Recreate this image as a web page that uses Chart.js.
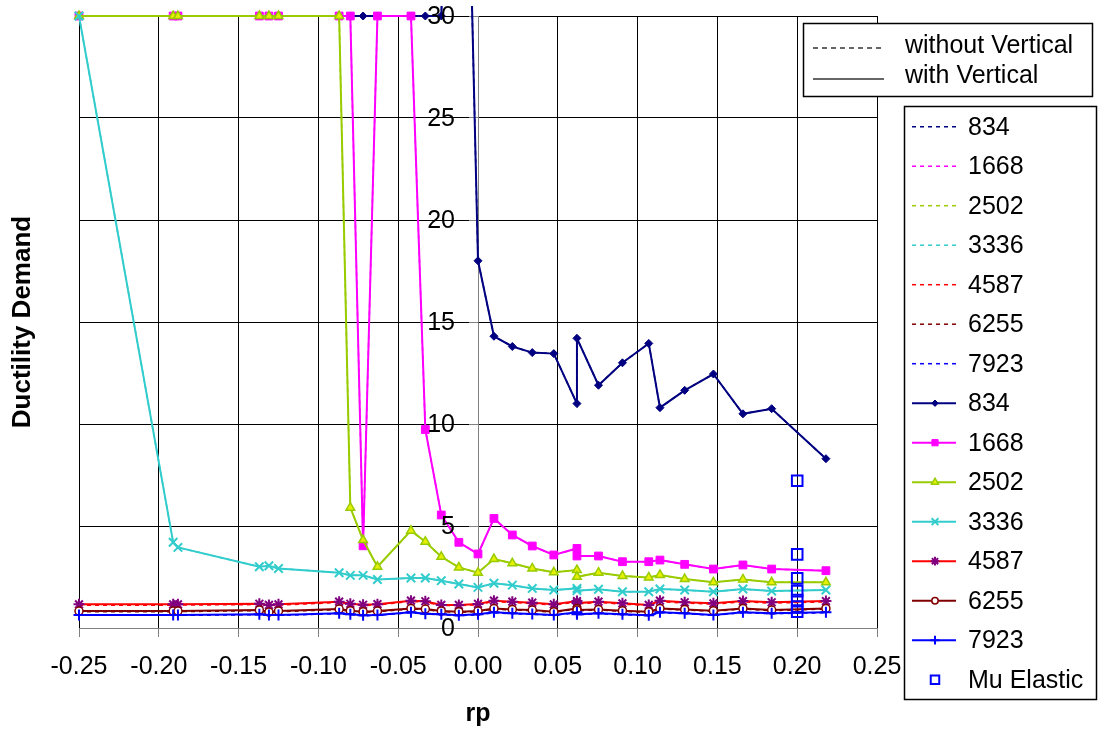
<!DOCTYPE html>
<html>
<head>
<meta charset="utf-8">
<title>Ductility Demand vs rp</title>
<script src="https://cdn.jsdelivr.net/npm/chart.js@4.4.1/dist/chart.umd.min.js"></script>
<style>
  html, body { margin: 0; padding: 0; background: #fff; }
  #wrap { width: 1099px; height: 729px; }
</style>
</head>
<body>
<div id="wrap"><canvas id="chart" width="1099" height="729"></canvas></div>
<script>
// rp positions shared by every series (two points sit at 0.062)
const rp = [-0.25, -0.191, -0.188, -0.137, -0.131, -0.125, -0.087, -0.080, -0.072, -0.063,
  -0.042, -0.033, -0.023, -0.012, 0.000, 0.010, 0.0215, 0.034, 0.0475, 0.062,
  0.062, 0.0755, 0.0905, 0.107, 0.114, 0.1295, 0.1475, 0.166, 0.184, 0.218];

// with vertical (solid lines)
const with834 = [30, 30, 30, 30, 30, 30, 30, 30, 30, 30, 30, 30, 30, 58, 18.0,
  14.3, 13.8, 13.5, 13.45, 11.0, 14.2, 11.9, 13.0, 13.95, 10.8, 11.65, 12.45, 10.5, 10.75, 8.3];
const with1668 = [30, 30, 30, 30, 30, 30, 30, 30, 4.03, 30, 30, 9.73, 5.54, 4.2, 3.63,
  5.37, 4.56, 4.02, 3.58, 3.9, 3.53, 3.53, 3.25, 3.25, 3.33, 3.12, 2.89, 3.09, 2.89, 2.81];
const with2502 = [30, 30, 30, 30, 30, 30, 30, 5.9, 4.31, 3.0, 4.77, 4.23, 3.49, 2.97, 2.71,
  3.38, 3.17, 2.92, 2.73, 2.84, 2.51, 2.71, 2.55, 2.48, 2.6, 2.4, 2.24, 2.38, 2.24, 2.24];
const with3336 = [30, 4.2, 3.95, 3.0, 3.05, 2.92, 2.71, 2.58, 2.58, 2.38, 2.45, 2.45, 2.32, 2.16, 1.99,
  2.19, 2.1, 1.94, 1.86, 1.94, 1.83, 1.9, 1.78, 1.78, 1.91, 1.86, 1.78, 1.91, 1.81, 1.86];
const with4587 = [1.16, 1.16, 1.16, 1.19, 1.13, 1.16, 1.29, 1.19, 1.14, 1.17, 1.34, 1.31, 1.13, 1.13, 1.18,
  1.34, 1.29, 1.24, 1.16, 1.32, 1.22, 1.29, 1.21, 1.13, 1.34, 1.26, 1.21, 1.32, 1.26, 1.32];
const with6255 = [0.83, 0.83, 0.83, 0.88, 0.78, 0.83, 0.93, 0.85, 0.80, 0.83, 0.96, 0.93, 0.83, 0.80, 0.83,
  0.96, 0.91, 0.88, 0.80, 0.96, 0.88, 0.91, 0.85, 0.80, 0.96, 0.91, 0.85, 0.96, 0.88, 0.96];
const with7923 = [0.64, 0.64, 0.64, 0.67, 0.64, 0.64, 0.72, 0.67, 0.62, 0.64, 0.77, 0.70, 0.67, 0.62, 0.67,
  0.77, 0.72, 0.69, 0.64, 0.77, 0.67, 0.72, 0.67, 0.62, 0.77, 0.72, 0.64, 0.77, 0.72, 0.77];

// without vertical (dashed lines, mostly hidden under the solid ones)
const without834 = [30, 30, 30, 30, 30, 30, 30, 30, 30, 30, 30, 30, 30, 58, 18.0,
  14.3, 13.8, 13.5, 13.45, 11.0, 14.2, 11.9, 13.0, 13.95, 10.8, 11.65, 12.45, 10.5, 10.75, 8.3];
const without1668 = [30, 30, 30, 30, 30, 30, 30, 30, 4.03, 30, 30, 9.73, 5.54, 4.2, 3.63,
  5.37, 4.56, 4.02, 3.58, 3.9, 3.53, 3.53, 3.25, 3.25, 3.33, 3.12, 2.89, 3.09, 2.89, 2.81];
const without2502 = [30, 30, 30, 30, 30, 30, 30, 5.9, 4.31, 3.0, 4.77, 4.23, 3.49, 2.97, 2.71,
  3.38, 3.17, 2.92, 2.73, 2.84, 2.51, 2.71, 2.55, 2.48, 2.6, 2.4, 2.24, 2.38, 2.24, 2.24];
const without3336 = [30, 4.2, 3.95, 3.0, 3.05, 2.92, 2.71, 2.58, 2.58, 2.38, 2.45, 2.45, 2.32, 2.16, 1.99,
  2.19, 2.1, 1.94, 1.86, 1.94, 1.83, 1.9, 1.78, 1.78, 1.91, 1.86, 1.78, 1.91, 1.81, 1.86];
const without4587 = [1.12, 1.12, 1.12, 1.15, 1.10, 1.12, 1.25, 1.16, 1.10, 1.13, 1.30, 1.27, 1.10, 1.10, 1.14,
  1.30, 1.25, 1.20, 1.12, 1.28, 1.18, 1.25, 1.17, 1.10, 1.30, 1.22, 1.17, 1.28, 1.22, 1.28];
const without6255 = [0.80, 0.80, 0.80, 0.85, 0.75, 0.80, 0.90, 0.82, 0.77, 0.80, 0.93, 0.90, 0.80, 0.77, 0.80,
  0.93, 0.88, 0.85, 0.77, 0.93, 0.85, 0.88, 0.82, 0.77, 0.93, 0.88, 0.82, 0.93, 0.85, 0.93];
const without7923 = [0.62, 0.62, 0.62, 0.65, 0.62, 0.62, 0.70, 0.65, 0.60, 0.62, 0.75, 0.68, 0.65, 0.60, 0.65,
  0.75, 0.70, 0.67, 0.62, 0.75, 0.65, 0.70, 0.65, 0.60, 0.75, 0.70, 0.62, 0.75, 0.70, 0.75];

// elastic ductility, all at rp = 0.2
const muElasticX = 0.2;
const muElastic = [7.22, 3.61, 2.43, 1.81, 1.37, 1.05, 0.80];

const seriesNames = ['834', '1668', '2502', '3336', '4587', '6255', '7923'];
const xTickValues = [-0.25, -0.20, -0.15, -0.10, -0.05, 0, 0.05, 0.10, 0.15, 0.20, 0.25];
const yTickValues = [0, 5, 10, 15, 20, 25, 30];

const FONT = "'Liberation Sans', Arial, sans-serif";

const toPoints = (ys) => ys.map((y, i) => ({ x: rp[i], y: y }));

const colors = ['#000080', '#FF00FF', '#99CC00', '#33CCCC', '#FF0000', '#800000', '#0000FF'];
const markers = [
  { style: 'rectRot', radius: 4, bg: '#000080', border: '#000080', bw: 1 },
  { style: 'rect', radius: 5.5, bg: '#FF00FF', border: '#FF00FF', bw: 1 },
  { style: 'triangle', radius: 5, bg: '#E6F000', border: '#99CC00', bw: 1.5 },
  { style: 'crossRot', radius: 6, bg: '#33CCCC', border: '#33CCCC', bw: 2 },
  { style: 'star', radius: 5.5, bg: '#800080', border: '#800080', bw: 2 },
  { style: 'circle', radius: 4, bg: '#FFFFFF', border: '#800000', bw: 1.5 },
  { style: 'cross', radius: 5.5, bg: '#0000FF', border: '#0000FF', bw: 2 }
];
const withoutData = [without834, without1668, without2502, without3336, without4587, without6255, without7923];
const withData = [with834, with1668, with2502, with3336, with4587, with6255, with7923];

const datasets = [];
withoutData.forEach((ys, i) => {
  datasets.push({
    label: seriesNames[i],
    data: toPoints(ys),
    showLine: true,
    borderColor: colors[i],
    borderWidth: 1.5,
    borderDash: [4, 4],
    pointRadius: 0,
    pointHoverRadius: 0,
    clip: 10
  });
});
withData.forEach((ys, i) => {
  const m = markers[i];
  datasets.push({
    label: seriesNames[i],
    data: toPoints(ys),
    showLine: true,
    borderColor: colors[i],
    borderWidth: 2,
    pointStyle: m.style,
    pointRadius: m.radius,
    pointBackgroundColor: m.bg,
    pointBorderColor: m.border,
    pointBorderWidth: m.bw,
    clip: 10
  });
});
datasets.push({
  label: 'Mu Elastic',
  data: muElastic.map(y => ({ x: muElasticX, y: y })),
  showLine: false,
  pointStyle: 'rect',
  pointRadius: 7.5,
  pointBackgroundColor: 'rgba(0,0,0,0)',
  pointBorderColor: '#0000FF',
  pointBorderWidth: 2,
  clip: 10
});
// later series are painted on top, like the spreadsheet did
datasets.forEach((ds, i) => { ds.order = datasets.length - i; });

const isZero = (v) => Math.abs(v) < 1e-9;

// y labels sit left of the axis that crosses at rp = 0
const yLabelsPlugin = {
  id: 'yLabels',
  afterDatasetsDraw(chart) {
    const ctx = chart.ctx;
    const xs = chart.scales.x, ys = chart.scales.y;
    const ax = xs.getPixelForValue(0);
    ctx.save();
    ctx.font = '25px ' + FONT;
    ctx.fillStyle = '#000';
    ctx.textAlign = 'right';
    ctx.textBaseline = 'middle';
    yTickValues.forEach(v => {
      ctx.fillText(String(v), ax - 23, ys.getPixelForValue(v) + 1);
    });
    ctx.restore();
  }
};

// legends and the rotated y title
const extrasPlugin = {
  id: 'extras',
  afterDraw(chart) {
    const ctx = chart.ctx;
    ctx.save();

    // y axis title
    ctx.save();
    ctx.translate(23, 322);
    ctx.rotate(-Math.PI / 2);
    ctx.font = 'bold 26px ' + FONT;
    ctx.fillStyle = '#000';
    ctx.textAlign = 'center';
    ctx.textBaseline = 'middle';
    ctx.fillText('Ductility Demand', 0, 0);
    ctx.restore();

    // line style legend
    ctx.fillStyle = '#fff';
    ctx.fillRect(803.5, 23.5, 289, 73);
    ctx.strokeStyle = '#000';
    ctx.lineWidth = 1.5;
    ctx.strokeRect(803.5, 23.5, 289, 73);
    ctx.strokeStyle = '#333';
    ctx.lineWidth = 1.5;
    ctx.setLineDash([5, 4]);
    ctx.beginPath(); ctx.moveTo(813, 48); ctx.lineTo(884, 48); ctx.stroke();
    ctx.setLineDash([]);
    ctx.beginPath(); ctx.moveTo(813, 79); ctx.lineTo(884, 79); ctx.stroke();
    ctx.font = '25px ' + FONT;
    ctx.fillStyle = '#000';
    ctx.textAlign = 'left';
    ctx.textBaseline = 'middle';
    ctx.fillText('without Vertical', 905, 46);
    ctx.fillText('with Vertical', 905, 76);

    // series legend
    ctx.fillStyle = '#fff';
    ctx.fillRect(904.5, 106.5, 192, 593);
    ctx.strokeStyle = '#000';
    ctx.lineWidth = 1.5;
    ctx.strokeRect(904.5, 106.5, 192, 593);
    chart.data.datasets.forEach((ds, i) => {
      const y = 126.7 + 39.5 * i;
      if (ds.showLine) {
        ctx.save();
        ctx.strokeStyle = ds.borderColor;
        ctx.lineWidth = ds.borderWidth;
        ctx.setLineDash(ds.borderDash || []);
        ctx.beginPath(); ctx.moveTo(912, y); ctx.lineTo(956, y); ctx.stroke();
        ctx.restore();
      }
      if (ds.pointRadius > 0) {
        ctx.save();
        ctx.fillStyle = ds.pointBackgroundColor;
        ctx.strokeStyle = ds.pointBorderColor;
        ctx.lineWidth = ds.pointBorderWidth;
        Chart.helpers.drawPoint(ctx, {
          pointStyle: ds.pointStyle,
          radius: ds.label === 'Mu Elastic' ? 6 : ds.pointRadius * 0.8,
          rotation: 0,
          borderWidth: ds.pointBorderWidth
        }, 935, y);
        ctx.restore();
      }
      ctx.fillStyle = '#000';
      ctx.font = '25px ' + FONT;
      ctx.textAlign = 'left';
      ctx.textBaseline = 'middle';
      ctx.fillText(ds.label, 968, y + 1);
    });
    ctx.restore();
  }
};

new Chart(document.getElementById('chart'), {
  type: 'scatter',
  data: { datasets: datasets },
  options: {
    responsive: false,
    animation: false,
    devicePixelRatio: 1,
    layout: { padding: { left: 79, right: 222, top: 16, bottom: 0 } },
    plugins: {
      legend: { display: false },
      tooltip: { enabled: false }
    },
    scales: {
      x: {
        type: 'linear',
        min: -0.25,
        max: 0.25,
        afterBuildTicks: (scale) => { scale.ticks = xTickValues.map(v => ({ value: v })); },
        grid: {
          color: (c) => (c.tick && isZero(c.tick.value)) ? 'rgba(0,0,0,0)' : '#000',
          lineWidth: 1,
          tickLength: 9,
          tickColor: '#808080'
        },
        border: { color: '#808080', width: 1 },
        ticks: {
          color: '#000',
          font: { family: FONT, size: 25 },
          padding: 15.5,
          maxRotation: 0,
          autoSkip: false,
          callback: (v) => (isZero(v) ? 0 : v).toFixed(2)
        },
        title: {
          display: true,
          text: 'rp',
          color: '#000',
          font: { family: FONT, size: 25, weight: 'bold' },
          padding: { top: 1, bottom: 0 }
        }
      },
      y: {
        type: 'linear',
        position: { x: 0 },
        min: 0,
        max: 30,
        afterBuildTicks: (scale) => { scale.ticks = yTickValues.map(v => ({ value: v })); },
        grid: {
          color: (c) => (c.tick && isZero(c.tick.value)) ? 'rgba(0,0,0,0)' : '#000',
          lineWidth: 1,
          tickLength: 9,
          tickColor: '#808080'
        },
        border: { color: '#808080', width: 1 },
        ticks: { display: false }
      }
    }
  },
  plugins: [yLabelsPlugin, extrasPlugin]
});
</script>
</body>
</html>
